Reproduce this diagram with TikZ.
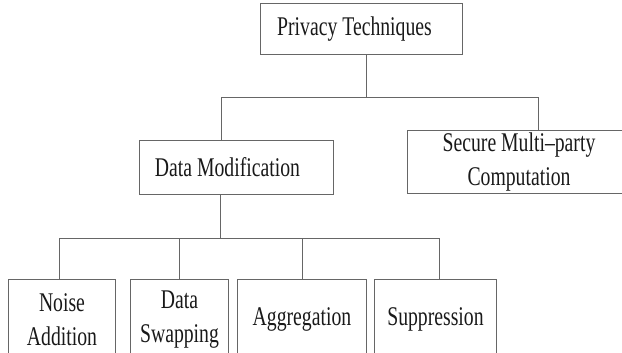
\documentclass[tikz,border=0pt]{standalone}
\usepackage{fontspec}
\setmainfont{Liberation Serif}[FakeStretch=0.73]
\usetikzlibrary{positioning}

\tikzset{
  techbox/.style={draw=black!60, line width=1pt, anchor=north west, inner sep=0pt,
    align=center, text=black!90, font=\fontsize{27}{34}\selectfont},
  tree/.style={draw=black!60, line width=1pt},
}

\begin{document}
\begin{tikzpicture}[x=1pt, y=-1pt]
  \useasboundingbox (0,0) rectangle (622,353);
  \clip (0,0) rectangle (622,353);

  % root and second level
  \node[techbox, minimum width=202pt, minimum height=51pt] (priv) at (260,3) {Privacy Techniques\hspace*{14pt}};
  \node[techbox, minimum width=194pt, minimum height=54pt] (datamod) at (139,140) {Data Modification\hspace*{18pt}};
  \node[techbox, minimum width=223pt, minimum height=63pt] (smc) at (407,130) {Secure Multi--party\\Computation};

  % leaves, running off the bottom edge
  \node[techbox, minimum width=107pt, minimum height=80pt] (noise) at (8,279) {Noise\\Addition};
  \node[techbox, minimum width=98pt, minimum height=80pt] (swap) at (130,279) {Data\\Swapping};
  \node[techbox, minimum width=129pt, minimum height=80pt] (aggr) at (237,279) {Aggregation};
  \node[techbox, minimum width=122pt, minimum height=80pt] (supp) at (374,279) {Suppression};

  \draw[tree] ([xshift=5pt]priv.south) -- ++(0,43) -| ([xshift=-15pt]datamod.north);
  \draw[tree] ([xshift=5pt]priv.south) -- ++(0,43) -| ([xshift=19pt]smc.north);

  \draw[tree] ([xshift=-16pt]datamod.south) -- ++(0,43) -| ([xshift=-3pt]noise.north);
  \draw[tree] ([xshift=-16pt]datamod.south) -- ++(0,43) -| (swap.north);
  \draw[tree] ([xshift=-16pt]datamod.south) -- ++(0,43) -| (aggr.north);
  \draw[tree] ([xshift=-16pt]datamod.south) -- ++(0,43) -| ([xshift=4pt]supp.north);
\end{tikzpicture}
\end{document}
